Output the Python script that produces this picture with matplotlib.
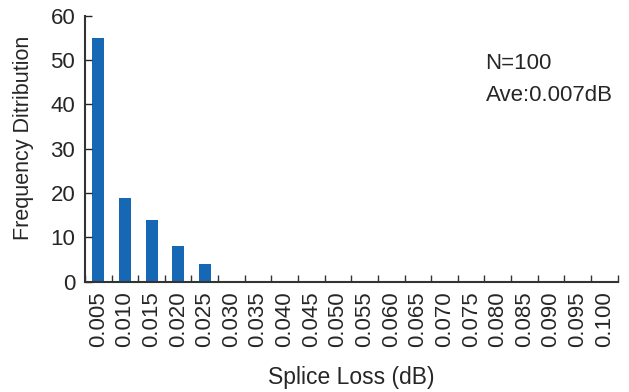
import matplotlib
matplotlib.use("Agg")
import matplotlib.pyplot as plt
import numpy as np

# splice loss bins (dB) and counts per bin
bins = ['0.005', '0.010', '0.015', '0.020', '0.025', '0.030', '0.035', '0.040',
        '0.045', '0.050', '0.055', '0.060', '0.065', '0.070', '0.075', '0.080',
        '0.085', '0.090', '0.095', '0.100']
counts = [55, 19, 14, 8, 4, 0, 0, 0, 0, 0, 0, 0, 0, 0, 0, 0, 0, 0, 0, 0]
y_ticks = [0, 10, 20, 30, 40, 50, 60]
notes = ['N=100', 'Ave:0.007dB']

plt.rcParams['font.family'] = ['Liberation Sans', 'DejaVu Sans']
text_col = '#262626'

fig = plt.figure(figsize=(6.29, 3.92), dpi=100)
ax = fig.add_axes([0.135, 0.281, 0.847, 0.679])

x = np.arange(len(bins))
ax.bar(x, counts, width=0.45, color='#1668b4')

ax.set_xlim(-0.5, len(bins) - 0.5)
ax.set_ylim(0, 60)
ax.set_yticks(y_ticks)
ax.set_xticks(x)
ax.set_xticklabels(bins, rotation=90)
# small inward ticks sit between the bars
ax.set_xticks(np.arange(len(bins) + 1) - 0.5, minor=True)

ax.tick_params(axis='x', which='major', length=0, pad=7, labelsize=16, colors=text_col)
ax.tick_params(axis='x', which='minor', direction='in', length=5, width=1, color='#333333')
ax.tick_params(axis='y', direction='in', length=5, width=1, labelsize=16,
               colors=text_col, pad=7)

for s in ['top', 'right']:
    ax.spines[s].set_visible(False)
for s in ['left', 'bottom']:
    ax.spines[s].set_linewidth(1.5)
    ax.spines[s].set_color('#333333')

ax.set_ylabel('Frequency Ditribution', fontsize=15.5, color=text_col)
ax.yaxis.set_label_coords(-0.095, 0.54)
ax.set_xlabel('Splice Loss (dB)', fontsize=16.5, color=text_col, va='top')
ax.xaxis.set_label_coords(0.5, -0.318)

ax.text(0.752, 0.8, notes[0], transform=ax.transAxes, fontsize=16, color=text_col)
ax.text(0.752, 0.68, notes[1], transform=ax.transAxes, fontsize=16, color=text_col)

fig.savefig('out.png', dpi=100)
